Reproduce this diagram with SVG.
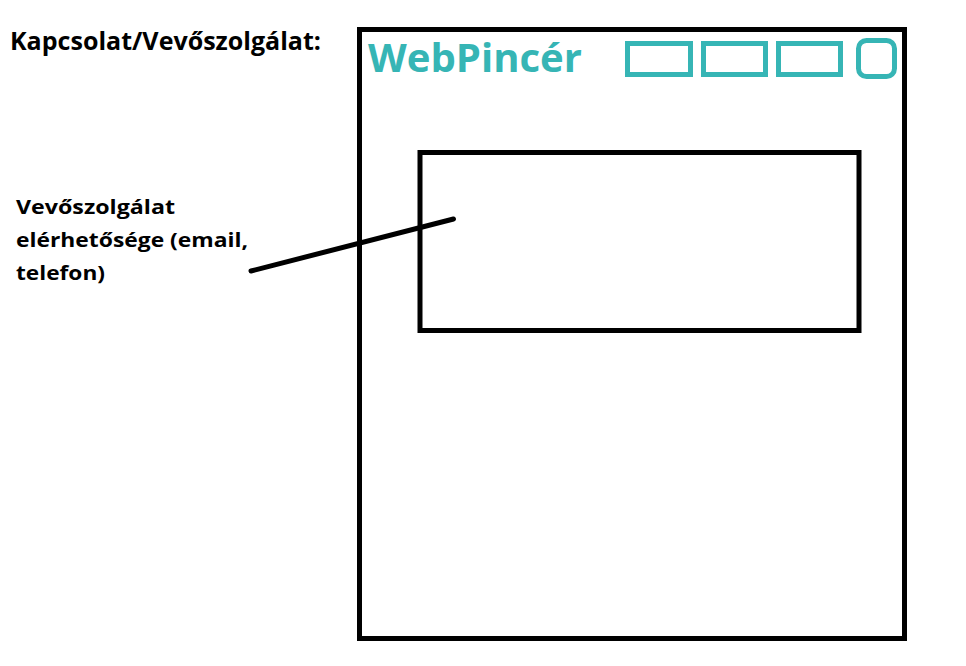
<svg xmlns="http://www.w3.org/2000/svg" width="966" height="666" viewBox="0 0 966 666">
  <style>
    .frame { fill: none; stroke: #000; stroke-width: 5; }
    .nav { fill: none; stroke: #36b5b5; stroke-width: 5; }
    .label { font-family: "Open Sans", "Liberation Sans", sans-serif; font-weight: bold; fill: #000; }
    .brand { font-family: "Open Sans", "Liberation Sans", sans-serif; font-weight: bold; fill: #36b5b5; }
    .link { stroke: #000; stroke-width: 5; stroke-linecap: round; fill: none; }
  </style>
  <rect width="966" height="666" fill="#fff"/>

  <g id="title">
    <text class="label" x="10" y="50" font-size="25" textLength="311" lengthAdjust="spacingAndGlyphs">Kapcsolat/Vevőszolgálat:</text>
  </g>

  <g id="page">
    <rect class="frame" x="359.5" y="29.5" width="545" height="609"/>
    <text class="brand" x="368" y="72" font-size="40" textLength="214" lengthAdjust="spacingAndGlyphs">WebPincér</text>
    <rect class="nav" x="627.5" y="43.5" width="63" height="31"/>
    <rect class="nav" x="703.5" y="43.5" width="62" height="31"/>
    <rect class="nav" x="778.5" y="43.5" width="62" height="31"/>
    <rect class="nav" x="858.5" y="40.5" width="36" height="36" rx="8"/>
  </g>

  <g id="contact-box">
    <rect class="frame" x="420" y="152.5" width="439" height="178"/>
  </g>

  <g id="contact-note">
    <text class="label" x="16" y="214" font-size="20" textLength="159" lengthAdjust="spacingAndGlyphs">Vevőszolgálat</text>
    <text class="label" x="16" y="247" font-size="20" textLength="232" lengthAdjust="spacingAndGlyphs">elérhetősége (email,</text>
    <text class="label" x="16" y="280" font-size="20" textLength="89" lengthAdjust="spacingAndGlyphs">telefon)</text>
  </g>

  <g id="connectors">
    <line class="link" x1="251" y1="271" x2="453.5" y2="219"/>
  </g>
</svg>
